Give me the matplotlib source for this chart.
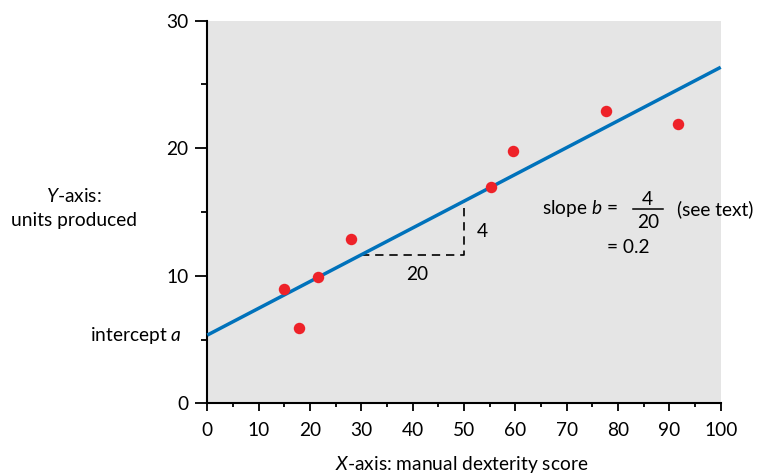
import matplotlib
matplotlib.use("Agg")
import matplotlib.pyplot as plt
import numpy as np

# Observed data: manual dexterity score vs units produced
dexterity = [15, 17.8, 21.6, 28, 55.3, 59.6, 77.7, 91.6]
units = [9, 5.9, 9.9, 12.9, 17, 19.8, 22.9, 21.9]

# Fitted regression line  y = a + b x
intercept_a = 5.35
slope_b = 0.21

x_ticks = list(range(0, 101, 10))
y_ticks = [0, 10, 20, 30]

plt.rcParams["font.family"] = ["Lato", "DejaVu Sans"]
plt.rcParams["mathtext.fontset"] = "custom"
plt.rcParams["mathtext.rm"] = "Lato"
plt.rcParams["mathtext.it"] = "Lato:italic"

FS = 13.8

fig = plt.figure(figsize=(7.58, 4.76), dpi=100)
ax = fig.add_axes([0.2735, 0.1527, 0.9508 - 0.2735, 0.9565 - 0.1527])
ax.set_facecolor("#e5e5e5")

ax.set_xlim(0, 100)
ax.set_ylim(0, 30)

for side in ("top", "right"):
    ax.spines[side].set_visible(False)
for side in ("left", "bottom"):
    ax.spines[side].set_linewidth(1.5)
    ax.spines[side].set_color("black")

ax.set_xticks(x_ticks)
ax.set_xticks(np.arange(5, 100, 10), minor=True)
ax.set_yticks(y_ticks)
ax.set_yticks([5, 15, 25], minor=True)
ax.tick_params(axis="x", which="major", length=5.8, width=1.3, pad=8, labelsize=FS)
ax.tick_params(axis="x", which="minor", length=2.9, width=1.3)
ax.tick_params(axis="y", which="major", length=8.6, width=1.3, pad=5, labelsize=FS)
ax.tick_params(axis="y", which="minor", length=4.3, width=1.3)

# Regression line across the full x range
xs = np.array([0, 100])
ax.plot(xs, intercept_a + slope_b * xs, color="#0072bb", lw=2.5,
        solid_capstyle="butt", zorder=3, clip_on=False)

# Data points
ax.scatter(dexterity, units, s=68, color="#ee2229", zorder=4, linewidths=0)

# Rise-over-run triangle from x = 30 to x = 50
x0, x1 = 30, 50
y0 = intercept_a + slope_b * x0
y1 = intercept_a + slope_b * x1
ax.plot([x0, x1, x1], [y0, y0, y1], color="black", lw=1.2,
        ls=(0, (5, 3.5)), zorder=2)
ax.text(40.8, 10.1, "20", fontsize=FS, ha="center", va="center")
ax.text(53.5, 13.45, "4", fontsize=FS, ha="center", va="center")

# Slope annotation
ax.text(80.0, 15.24, r"slope $\mathit{b}$ =", fontsize=FS, ha="right", va="center")
ax.text(85.8, 15.95, "4", fontsize=FS, ha="center", va="center")
ax.plot([82.9, 88.8], [15.2, 15.2], color="black", lw=1.1)
ax.text(85.8, 14.14, "20", fontsize=FS, ha="center", va="center")
ax.text(91.4, 15.24, "(see text)", fontsize=FS, ha="left", va="center",
        clip_on=False)
ax.text(77.8, 12.18, "= 0.2", fontsize=FS, ha="left", va="center")

# Axis titles and intercept label
ax.text(-5.0, intercept_a, r"intercept $\mathit{a}$", fontsize=FS,
        ha="right", va="center", clip_on=False)
ax.text(-26.0, 15.3, "$\\mathit{Y}$-axis:\nunits produced", fontsize=FS,
        ha="center", va="center", multialignment="center",
        linespacing=1.5, clip_on=False)
ax.text(49.5, -4.8, "$\\mathit{X}$-axis: manual dexterity score", fontsize=FS,
        ha="center", va="center", clip_on=False)

fig.savefig("out.png", dpi=100)
